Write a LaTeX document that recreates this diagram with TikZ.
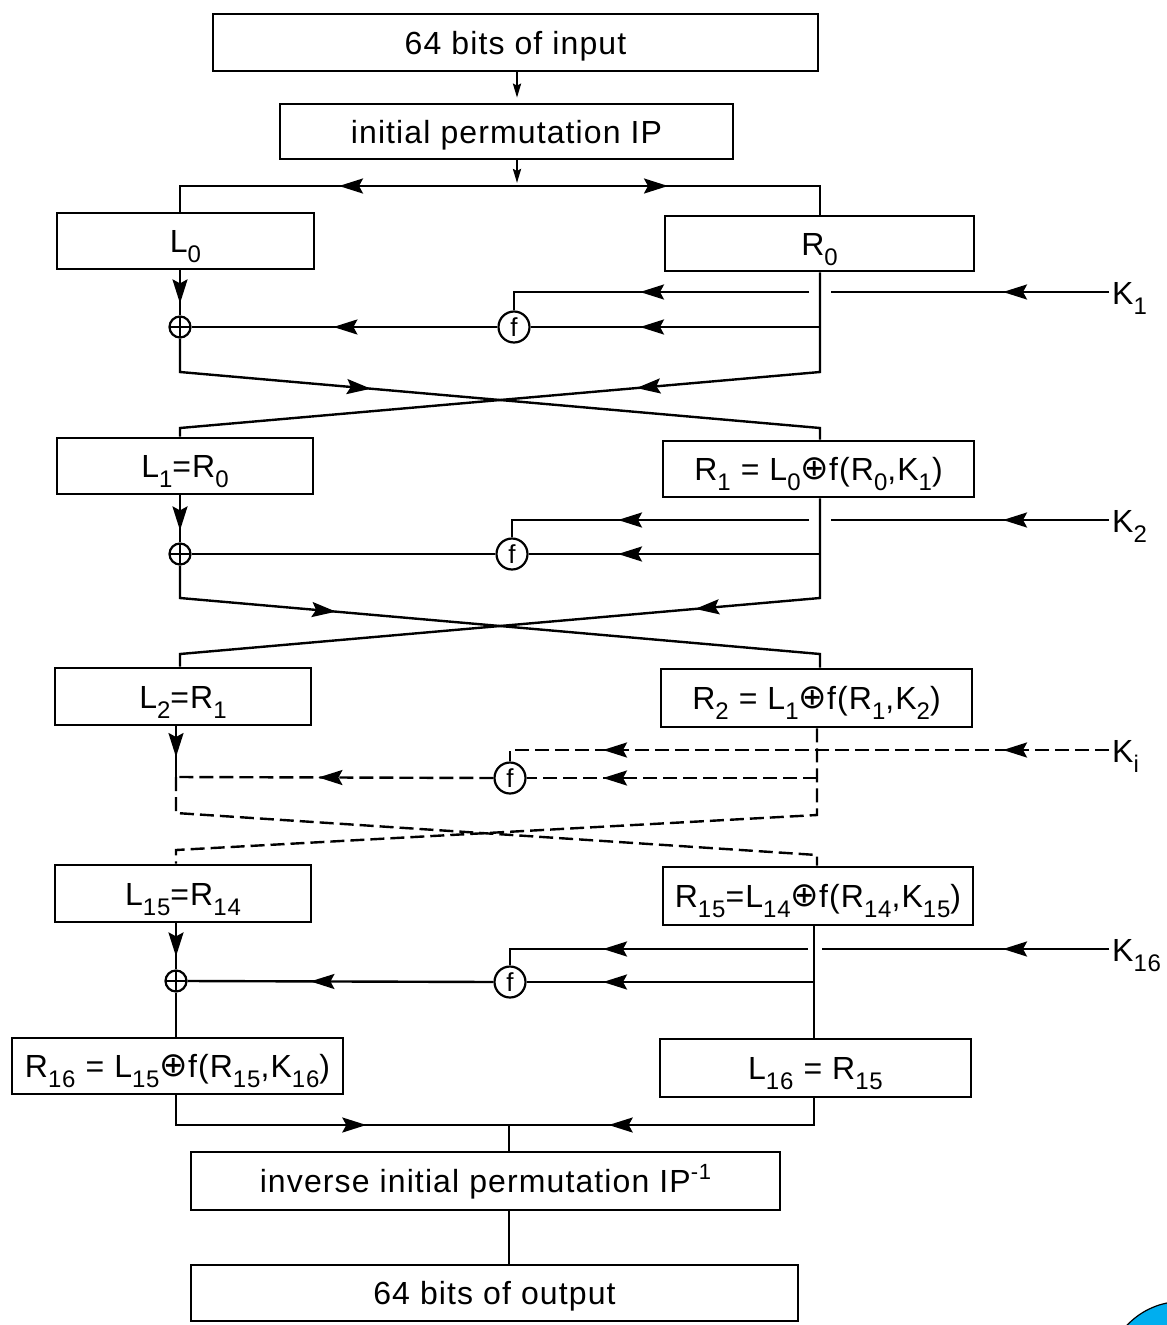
\documentclass[tikz,border=0pt]{standalone}
\usepackage{fontspec}
\usepackage{graphicx}
\setmainfont{Liberation Sans}[LetterSpace=3.5]
\newfontfamily\djv{DejaVu Sans}
\usetikzlibrary{arrows.meta,decorations.markings,calc,shapes.geometric}
\newcommand\sbx[1]{\raisebox{-10pt}{\fontsize{24}{26}\selectfont #1}}
\newcommand\spx[1]{\raisebox{13pt}{\fontsize{22}{24}\selectfont #1}}
\newcommand\opl{\raisebox{1pt}{\djv\fontsize{34}{36}\selectfont ⊕}}
\definecolor{dotblue}{RGB}{0,174,239}
\begin{document}
\begin{tikzpicture}[x=1pt,y=-1pt,
  >={Stealth[length=24pt,width=15pt,inset=4pt]},
  lw/.style={line width=2.4pt},
  dsh/.style={dash pattern=on 14pt off 6pt},
  am/.style={postaction={decorate,decoration={markings,mark=at position #1 with {\arrow{>}}}}},
  smallar/.style={-{Stealth[length=14pt,width=8pt,inset=2pt]}},
  blk/.style={draw, line width=2.6pt, inner sep=0pt, font=\fontsize{32}{38}\selectfont, text height=23pt, text depth=0pt},
  klab/.style={inner sep=0pt, font=\fontsize{32}{38}\selectfont},
  xo/.style={circle, draw, line width=2.2pt, minimum size=21pt, inner sep=0pt,
     path picture={\draw[line width=1.8pt] (path picture bounding box.north) -- (path picture bounding box.south)
        (path picture bounding box.west) -- (path picture bounding box.east);}},
  fc/.style={circle, draw, line width=2.2pt, minimum size=31pt, inner sep=0pt, font=\fontsize{26}{28}\selectfont}
]
\fill[white] (0,0) rectangle (1167,1325);
\useasboundingbox (0,0) rectangle (1167,1325);

% boxes
\node[blk, minimum width=605pt, minimum height=57pt] (in) at (515.5,42.5) {64 bits of input};
\node[blk, minimum width=453pt, minimum height=55pt] (ip) at (506.5,131.5) {initial permutation IP};
\node[blk, minimum width=257pt, minimum height=56pt] (L0) at (185.5,241) {L\sbx{0}};
\node[blk, minimum width=309pt, minimum height=55pt] (R0) at (819.5,243.5) {R\sbx{0}};
\node[blk, minimum width=256pt, minimum height=56pt] (L1) at (185,466) {L\sbx{1}=R\sbx{0}};
\node[blk, minimum width=311pt, minimum height=56pt] (R1) at (818.5,469) {R\sbx{1} = L\sbx{0}\opl f(R\sbx{0},K\sbx{1})};
\node[blk, minimum width=256pt, minimum height=57pt] (L2) at (183,696.5) {L\sbx{2}=R\sbx{1}};
\node[blk, minimum width=311pt, minimum height=58pt] (R2) at (816.5,698) {R\sbx{2} = L\sbx{1}\opl f(R\sbx{1},K\sbx{2})};
\node[blk, minimum width=256pt, minimum height=57pt] (L15) at (183,893.5) {L\sbx{15}=R\sbx{14}};
\node[blk, minimum width=310pt, minimum height=58pt] (R15) at (818,896) {R\sbx{15}=L\sbx{14}\opl f(R\sbx{14},K\sbx{15})};
\node[blk, minimum width=331pt, minimum height=56pt] (R16) at (177.5,1066) {R\sbx{16} = L\sbx{15}\opl f(R\sbx{15},K\sbx{16})};
\node[blk, minimum width=311pt, minimum height=58pt] (L16) at (815.5,1068) {L\sbx{16} = R\sbx{15}};
\node[blk, minimum width=589pt, minimum height=58pt] (ipinv) at (485.5,1181) {inverse initial permutation IP\spx{-1}};
\node[blk, minimum width=607pt, minimum height=56pt] (out) at (494.5,1293) {64 bits of output};

% combiners
\node[xo] (x1) at (180,327) {};
\node[fc] (f1) at (514,327) {f};
\node[xo] (x2) at (180,554) {};
\node[fc] (f2) at (512,554) {f};
\node[fc] (f3) at (510,778) {f};
\node[xo] (x4) at (176,981) {};
\node[fc] (f4) at (510,982) {f};

% key labels
\node[klab, anchor=base west] (K1) at (1112,304) {K\sbx{1}};
\node[klab, anchor=base west] (K2) at (1112,532) {K\sbx{2}};
\node[klab, anchor=base west] (Ki) at (1112,762) {K\sbx{i}};
\node[klab, anchor=base west] (K16) at (1112,961) {K\sbx{16}};

% column coordinates
\coordinate (s0) at (517,186);
\coordinate (ca) at (180,0);
\coordinate (cb) at (176,0);
\coordinate (ra) at (820,0);
\coordinate (rb) at (817,0);
\coordinate (rcc) at (814,0);

% top
\draw[lw, smallar, shorten >=5pt] (in.south -| s0) -- (ip.north -| s0);
\draw[lw, smallar, shorten >=3pt] (ip.south -| s0) -- (s0);
\draw[lw, am=178pt] (s0) -| (L0.north -| ca);
\draw[lw, am=151pt] (s0) -| (R0.north -| ra);

% round 1
\draw[lw, am=-12pt] (L0.south -| ca) -- (x1.north);
\coordinate (k1) at ($(K1.base west)+(-3,-12)$);
\coordinate (h1) at (k1 -| ra);
\draw[lw, am=106pt] (k1) -- ($(h1)+(11,0)$);
\draw[lw, am=169pt] ($(h1)+(-11,0)$) -| (f1.north);
\coordinate (q1) at (f1 -| ra);
\draw[lw, am=180pt] (q1) -- (f1.east);
\draw[lw, am=164pt] (f1.west) -- (x1.east);
\coordinate (u1l) at (180,372);
\coordinate (u1r) at (820,372);
\coordinate (d1l) at (180,428);
\coordinate (d1r) at (820,428);
\draw[lw, am=225pt] (x1.south) -- (u1l) -- (d1r) -- (R1.north -| ra);
\draw[lw, am=284pt] (R0.south -| ra) -- (u1r) -- (d1l) -- (L1.north -| ca);

% round 2
\draw[lw, am=-12pt] (L1.south -| ca) -- (x2.north);
\coordinate (k2) at ($(K2.base west)+(-3,-12)$);
\coordinate (h2) at (k2 -| ra);
\draw[lw, am=106pt] (k2) -- ($(h2)+(11,0)$);
\draw[lw, am=191pt] ($(h2)+(-11,0)$) -| (f2.north);
\coordinate (q2) at (f2 -| ra);
\draw[lw, am=202pt] (q2) -- (f2.east);
\draw[lw] (f2.west) -- (x2.east);
\coordinate (u2l) at (180,598);
\coordinate (u2r) at (820,598);
\coordinate (d2l) at (180,654);
\coordinate (d2r) at (820,654);
\draw[lw, am=189pt] (x2.south) -- (u2l) -- (d2r) -- (R2.north -| ra);
\draw[lw, am=225pt] (R1.south -| ra) -- (u2r) -- (d2l) -- (L2.north -| ca);

% round i (dashed)
\coordinate (ji) at (176,777);
\draw[lw, am=-20pt] (L2.south -| ji) -- (ji);
\coordinate (ki) at ($(Ki.base west)+(-3,-12)$);
\draw[lw, dsh, am=106pt, am=506pt] (ki) -| (f3.north);
\coordinate (qi) at (f3 -| rb);
\draw[lw, dsh, am=214pt] (qi) -- (f3.east);
\draw[lw, dsh, am=175pt] (f3.west) -- (ji);
\coordinate (uil) at (176,813);
\coordinate (uir) at (817,815);
\coordinate (dil) at (176,850);
\coordinate (dir) at (817,855);
\draw[lw, dsh] (ji) -- (uil) -- (dir) -- (R15.north -| rb);
\draw[lw, dsh] (R2.south -| rb) -- (uir) -- (dil) -- (L15.north -| cb);

% round 16
\draw[lw, am=-13pt] (L15.south -| cb) -- (x4.north);
\coordinate (k16) at ($(K16.base west)+(-3,-12)$);
\coordinate (h16) at (k16 -| rcc);
\draw[lw, am=106pt] (k16) -- ($(h16)+(8,0)$);
\draw[lw, am=205pt] ($(h16)+(-6,0)$) -| (f4.north);
\coordinate (q4) at (f4 -| rcc);
\draw[lw, am=211pt] (q4) -- (f4.east);
\draw[lw, am=183pt] (f4.west) -- (x4.east);
\draw[lw] (x4.south) -- (R16.north -| cb);
\draw[lw] (R15.south -| rcc) -- (L16.north -| rcc);

% output merge
\coordinate (m) at (509,1125);
\draw[lw, am=220pt] (R16.south -| cb) |- (m);
\draw[lw, am=232pt] (L16.south -| rcc) |- (m);
\draw[lw] (m) -- (ipinv.north -| m);
\draw[lw] (ipinv.south -| m) -- (out.north -| m);

% corner mark
\begin{scope}
\clip (0,0) rectangle (1167,1325);
\fill[dotblue, draw=black, line width=1.2pt] (1182,1377) circle (75.5pt);
\end{scope}
\end{tikzpicture}
\end{document}
